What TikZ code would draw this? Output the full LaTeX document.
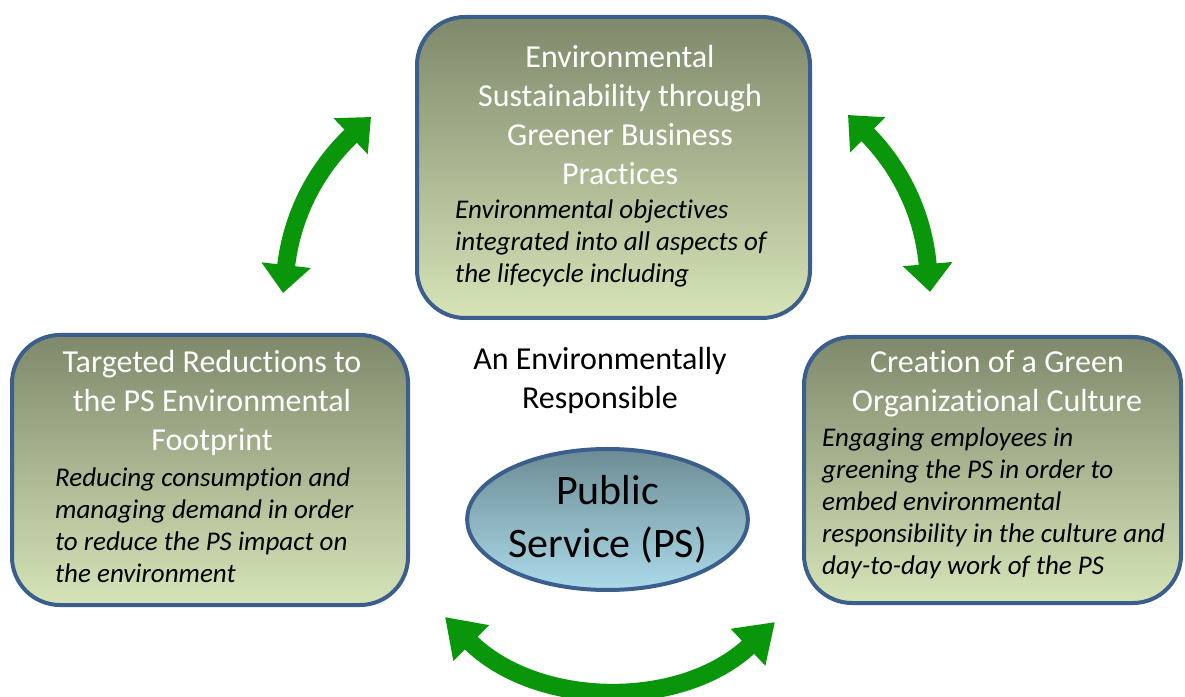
\documentclass[tikz,border=0pt]{standalone}
\usepackage{fontspec}
\setmainfont{Carlito}[Ligatures=NoCommon]
\usetikzlibrary{shapes.geometric,arrows.meta}
\definecolor{boxtop}{RGB}{126,137,107}
\definecolor{boxbot}{RGB}{214,228,184}
\definecolor{rim}{RGB}{59,94,140}
\definecolor{hubtop}{RGB}{108,140,148}
\definecolor{hubbot}{RGB}{172,218,234}
\definecolor{leaf}{RGB}{10,150,10}
\tikzset{
  box/.style={draw=rim, line width=4pt, rounded corners=48pt,
    top color=boxtop, bottom color=boxbot, inner sep=0pt},
  ttl/.style={anchor=north, inner sep=0pt, align=center, text=white,
    font=\fontsize{32}{39}\selectfont},
  body/.style={anchor=north west, inner sep=0pt, align=left,
    font=\fontsize{27}{32}\selectfont\itshape},
  hub/.style={ellipse, draw=rim, line width=4pt, top color=hubtop,
    bottom color=hubbot, inner sep=0pt, minimum width=271pt,
    minimum height=141pt, align=center, font=\fontsize{42}{53}\selectfont},
  dblarrow/.style={draw=leaf, line width=18pt,
    {Triangle[length=#1,width=48pt]}-{Triangle[length=#1,width=48pt]}},
}
\begin{document}
\begin{tikzpicture}[x=1pt,y=1pt]
  \useasboundingbox (0,0) rectangle (1185,696);

  % Boxes
  \node[box, minimum width=393pt, minimum height=301pt] (topbox) at (613.5,528.5) {};
  \node[box, minimum width=396pt, minimum height=270pt] (leftbox) at (210,226) {};
  \node[box, minimum width=377pt, minimum height=266pt] (rightbox) at (992.5,226) {};

  % Box texts
  \node[ttl] (topttl) at (620,651) {Environmental\\Sustainability through\\Greener Business\\Practices};
  \node[body] (topbody) at (455,496) {Environmental objectives\\integrated into all aspects of\\the lifecycle including};
  \node[ttl] (leftttl) at (212,346) {Targeted Reductions to\\the PS Environmental\\Footprint};
  \node[body] (leftbody) at (55,228) {Reducing consumption and\\managing demand in order\\to reduce the PS impact on\\the environment};
  \node[ttl] (rightttl) at (997,346) {Creation of a Green\\Organizational Culture};
  \node[body] (rightbody) at (822,268) {Engaging employees in\\greening the PS in order to\\embed environmental\\responsibility in the culture and\\day-to-day work of the PS};

  % Centre
  \node[ttl, text=black] (motto) at (600,349) {An Environmentally\\Responsible};
  \node[hub] (hub) at (607.5,176.5) {Public\\Service (PS)};

  % Arrow ends
  \coordinate (nwlow) at (283,403);
  \coordinate (nwhigh) at (371,579);
  \coordinate (nehigh) at (848,581);
  \coordinate (nelow) at (930,404);
  \coordinate (sleft) at (445,79);
  \coordinate (sright) at (775,74);

  % Arrows
  \draw[dblarrow=28pt] (nwlow) to[bend left=20] (nwhigh);
  \draw[dblarrow=28pt] (nehigh) to[bend left=20] (nelow);
  \draw[dblarrow=37pt] (sleft) to[bend right=44] (sright);
\end{tikzpicture}
\end{document}
